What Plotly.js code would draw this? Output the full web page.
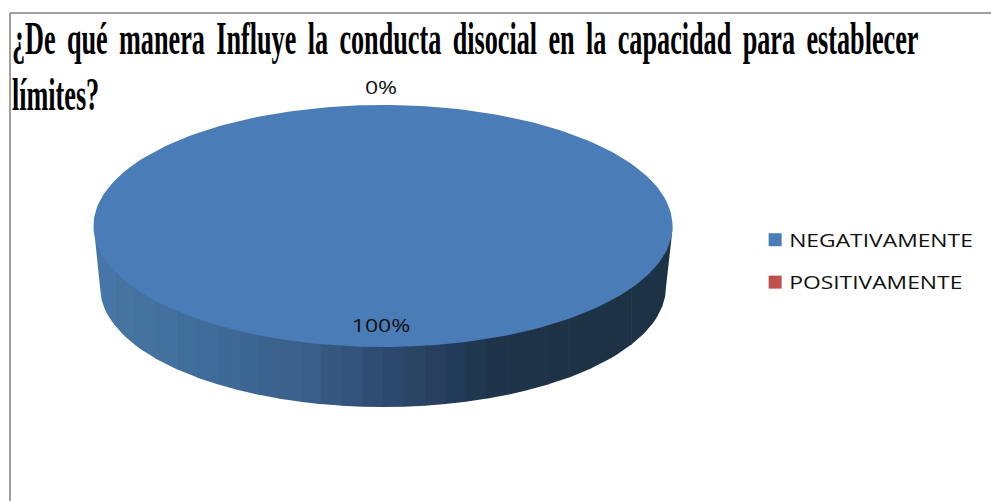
<!DOCTYPE html>
<html><head><meta charset="utf-8">
<script src="https://cdn.plot.ly/plotly-3.0.1.min.js"></script>
<style>
html,body{margin:0;padding:0;background:#fff}
#c{width:991px;height:501px}
.gtitle{word-spacing:8.4px}
.legendtext{transform-box:fill-box;transform-origin:left center;transform:scaleX(1.27)}
.textpoint text{transform-box:fill-box;transform-origin:center;transform:scaleX(1.28)}
</style></head><body><div id="c"></div>
<script>
const categories = ["NEGATIVAMENTE", "POSITIVAMENTE"];
const shares = [100, 0];
const sliceColors = ["#4A7CB7", "#C0504D"];
const dataLabels = ["100%", "0%"];
const chartTitle = "¿De qué manera Influye la conducta disocial en la capacidad para establecer<br>límites?";
const wallShades = ["#4676A8","#44749F","#43729F","#42709F","#406E9B","#3F6B9A","#3E6996","#3C6693","#3C638E","#3A608B","#385D88","#36587F","#33537A","#2F4C73","#2D486E","#2A4466","#283F60","#233B5A","#203750","#1F344B","#1E3347","#1E3347","#1E3246","#1E3246","#1E3246","#1E3246","#1E3246","#1E3246"];

const face = {cx:383, cy:226, rx:289.5, ry:121};
const base = {cx:383, cy:287, rx:283, ry:120};
const deg = Math.PI/180;
const traces = [];

// side wall bands, lower half of the disc, drawn left to right
const yOn = (e,x)=>e.cy+e.ry*Math.sqrt(Math.max(0,1-((x-e.cx)/e.rx)**2));
const xL = face.cx-face.rx, xR = face.cx+face.rx, bw=(xR-xL)/wallShades.length;
wallShades.forEach((col,i)=>{
  const a=xL+i*bw,b=a+bw+0.6,xs=[],ys=[];
  for(let k=0;k<=8;k++){const x=a+(b-a)*k/8;xs.push(x);ys.push(yOn(face,x)-2);}
  for(let k=8;k>=0;k--){const x=a+(b-a)*k/8;
    const cl=Math.min(Math.max(x,base.cx-base.rx),base.cx+base.rx);
    xs.push(cl);ys.push(Math.abs(x-base.cx)>base.rx? base.cy : yOn(base,cl));}
  traces.push({x:xs,y:ys,mode:"lines",fill:"toself",fillcolor:col,line:{width:0,color:col},hoverinfo:"skip",showlegend:false});
});

// top face slices, clockwise from twelve o'clock
let acc=0; const total=shares.reduce((a,b)=>a+b,0);
const lx=[],ly=[];
shares.forEach((s,i)=>{
  const a0=acc/total*360,a1=(acc+s)/total*360,xs=[face.cx],ys=[face.cy];
  const n=Math.max(2,Math.ceil((a1-a0)/1.5));
  for(let k=0;k<=n;k++){const t=(a0+(a1-a0)*k/n)*deg;xs.push(face.cx+face.rx*Math.sin(t));ys.push(face.cy-face.ry*Math.cos(t));}
  xs.push(face.cx);ys.push(face.cy);
  traces.push({x:xs,y:ys,mode:"lines",fill:"toself",fillcolor:sliceColors[i],line:{width:0,color:sliceColors[i]},hoverinfo:"skip",showlegend:false});
  const mid=(a0+a1)/2*deg, r=s/total<0.05?1.13:0.84;
  lx.push(face.cx-2+face.rx*r*Math.sin(mid));ly.push(face.cy-face.ry*r*Math.cos(mid));
  acc+=s;
});
traces.push({x:lx,y:ly,text:dataLabels,mode:"text",textposition:"middle center",textfont:{family:"Open Sans",size:18,color:"#111"},hoverinfo:"skip",showlegend:false});

// legend entries
categories.forEach((c,i)=>traces.push({x:[null],y:[null],name:c,legendgroup:c,mode:"markers",marker:{symbol:"square",size:13,color:sliceColors[i]}}));

const layout={
  width:991,height:501,margin:{l:0,r:0,t:0,b:0},paper_bgcolor:"#fff",plot_bgcolor:"#fff",
  title:{text:chartTitle,x:0.012,xref:"paper",xanchor:"left",y:0.892,yref:"paper",yanchor:"top",automargin:false,
    font:{family:"Liberation Serif",size:46,color:"#000",weight:700}},
  xaxis:{range:[0,991],visible:false,fixedrange:true},
  yaxis:{range:[501,0],visible:false,fixedrange:true},
  showlegend:true,
  legend:{x:0.762,y:0.479,xanchor:"left",yanchor:"middle",traceorder:"grouped",tracegroupgap:16,font:{family:"Open Sans",size:18,color:"#111"},bgcolor:"rgba(0,0,0,0)"},
  shapes:[
    {type:"line",xref:"x",yref:"y",x0:10,x1:10,y0:13,y1:501,line:{color:"#808080",width:1.5}},
    {type:"line",xref:"x",yref:"y",x0:10,x1:991,y0:13,y1:13,line:{color:"#808080",width:1.5}}
  ]
};
Plotly.newPlot("c",traces,layout,{displayModeBar:false,staticPlot:true}).then(()=>{
  const t=document.querySelector(".gtitle");
  if(t){
    const x0=+t.getAttribute("x");
    const s=0.57;
    t.querySelectorAll("tspan.line").forEach((l,i)=>{ if(i>0) l.setAttribute("dy","1.22em"); });
    t.setAttribute("transform",`translate(${x0*(1-s)},0) scale(${s},1)`);
  }
  document.querySelectorAll(".legendtext").forEach(l=>l.setAttribute("x",+l.getAttribute("x")-6));
  const clip=document.querySelector(".legend .scrollbox");
  if(clip) clip.removeAttribute("clip-path");
});
</script></body></html>
